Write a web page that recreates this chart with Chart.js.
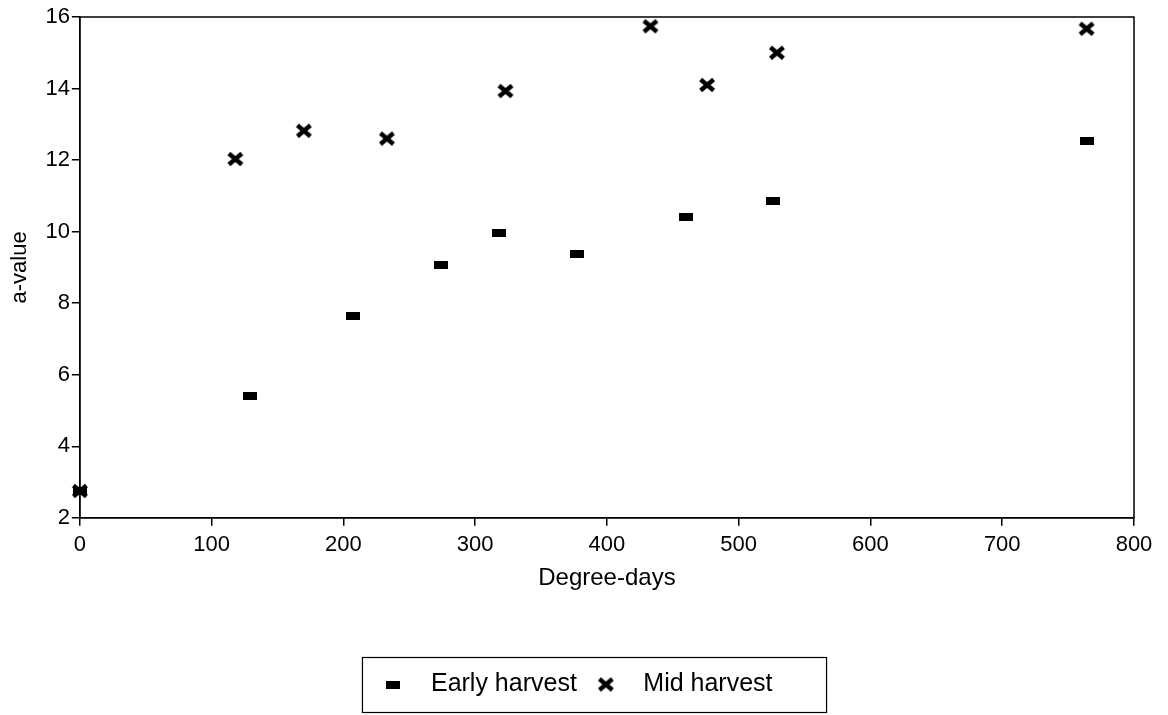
<!DOCTYPE html>
<html>
<head>
<meta charset="utf-8">
<script src="https://cdn.jsdelivr.net/npm/chart.js@4"></script>
<style>
  html, body { margin: 0; padding: 0; background: #fff; }
  #wrap { width: 1168px; height: 715px; }
</style>
</head>
<body>
<div id="wrap"><canvas id="chart" width="1168" height="715"></canvas></div>
<script>
// data
const early_x = [0, 129, 207, 274, 318, 377, 460, 526, 764];
const early_y = [2.75, 5.41, 7.65, 9.06, 9.96, 9.38, 10.41, 10.87, 12.54];

const mid_x = [0, 118, 170, 233, 323, 433, 476, 529, 764];
const mid_y = [2.75, 12.03, 12.82, 12.6, 13.93, 15.74, 14.1, 15.0, 15.67];

const x_ticks = [0, 100, 200, 300, 400, 500, 600, 700, 800];
const y_ticks = [2, 4, 6, 8, 10, 12, 14, 16];

const FONT = "'Liberation Sans', Arial, sans-serif";

// marker for early harvest: small flat block
function makeBlock() {
    const c = document.createElement('canvas');
    c.width = 14; c.height = 8;
    const ctx = c.getContext('2d');
    ctx.fillStyle = '#000';
    ctx.fillRect(0, 0, 14, 8);
    return c;
}

// marker for mid harvest: bold cross with notched sides
function makeStar() {
    const c = document.createElement('canvas');
    c.width = 18; c.height = 16;
    const ctx = c.getContext('2d');
    ctx.strokeStyle = '#000';
    ctx.lineWidth = 4.5;
    ctx.lineCap = 'butt';
    ctx.beginPath();
    ctx.moveTo(2.5, 2.5); ctx.lineTo(15.5, 13.5);
    ctx.moveTo(15.5, 2.5); ctx.lineTo(2.5, 13.5);
    ctx.stroke();
    ctx.fillStyle = '#000';
    ctx.fillRect(6, 5, 6, 6);
    return c;
}

const blockImg = makeBlock();
const starImg = makeStar();

function toPoints(xs, ys) {
    return xs.map((x, i) => ({x: x, y: ys[i]}));
}

// box round the plot and round the legend
const framePlugin = {
    id: 'frame',
    afterDraw(chart) {
        const ctx = chart.ctx;
        const a = chart.chartArea;
        ctx.save();
        ctx.strokeStyle = '#000';
        ctx.lineWidth = 1.5;
        ctx.strokeRect(a.left, a.top, a.right - a.left, a.bottom - a.top);

        const boxes = chart.legend.legendHitBoxes;
        if (boxes && boxes.length) {
            let l = Infinity, r = -Infinity, t = Infinity, b = -Infinity;
            boxes.forEach(h => {
                l = Math.min(l, h.left); r = Math.max(r, h.left + h.width);
                t = Math.min(t, h.top); b = Math.max(b, h.top + h.height);
            });
            const mid = (t + b) / 2;
            ctx.lineWidth = 1.2;
            ctx.strokeRect(l - 6, mid - 27, (r - l) + 60, 55);
        }
        ctx.restore();
    }
};

const chart = new Chart(document.getElementById('chart'), {
    type: 'scatter',
    data: {
        datasets: [{
            label: 'Early harvest',
            data: toPoints(early_x, early_y),
            pointStyle: blockImg,
            backgroundColor: '#000',
            borderColor: '#000',
            clip: false
        }, {
            label: 'Mid harvest',
            data: toPoints(mid_x, mid_y),
            pointStyle: starImg,
            backgroundColor: '#000',
            borderColor: '#000',
            clip: false
        }]
    },
    options: {
        responsive: false,
        animation: false,
        layout: {
            padding: {top: 17, right: 34, left: 7, bottom: 8}
        },
        plugins: {
            legend: {
                position: 'bottom',
                labels: {
                    usePointStyle: true,
                    pointStyleWidth: 50,
                    color: '#000',
                    font: {family: FONT, size: 25},
                    padding: 4
                }
            },
            tooltip: {enabled: false}
        },
        scales: {
            x: {
                type: 'linear',
                min: 0,
                max: 800,
                afterBuildTicks: (s) => { s.ticks = x_ticks.map(v => ({value: v})); },
                ticks: {color: '#000', font: {family: FONT, size: 22}, padding: 6},
                grid: {drawOnChartArea: false, color: '#000', tickLength: 8, lineWidth: 1.5},
                border: {color: '#000', width: 1.5},
                title: {
                    display: true,
                    text: 'Degree-days',
                    color: '#000',
                    font: {family: FONT, size: 24},
                    padding: {top: 0, bottom: 75}
                }
            },
            y: {
                type: 'linear',
                min: 2,
                max: 16,
                afterBuildTicks: (s) => { s.ticks = y_ticks.map(v => ({value: v})); },
                ticks: {color: '#000', font: {family: FONT, size: 22}, padding: 2},
                grid: {drawOnChartArea: false, color: '#000', tickLength: 8, lineWidth: 1.5},
                border: {color: '#000', width: 1.5},
                title: {
                    display: true,
                    text: 'a-value',
                    color: '#000',
                    font: {family: FONT, size: 22},
                    padding: {top: 0, bottom: 10}
                }
            }
        }
    },
    plugins: [framePlugin]
});
</script>
</body>
</html>
